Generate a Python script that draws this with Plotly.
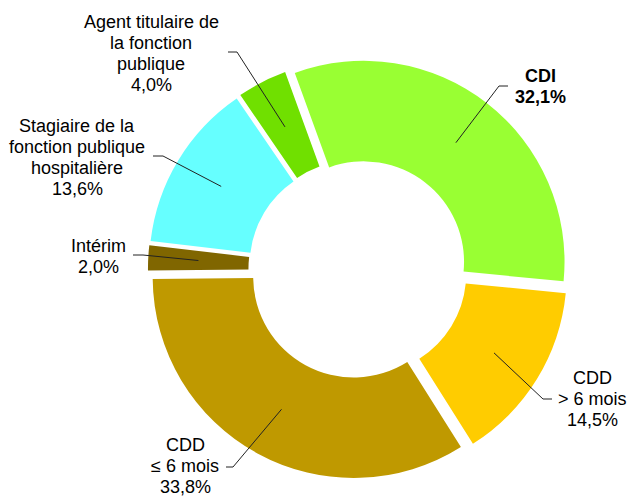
import math
import plotly.graph_objects as go

# ---- data ----
categories = ["CDI", "CDD > 6 mois", "CDD ≤ 6 mois", "Intérim",
              "Stagiaire de la fonction publique hospitalière",
              "Agent titulaire de la fonction publique"]
values = [32.1, 14.5, 33.8, 2.0, 13.6, 4.0]
label_lines = [
    ["CDI"],
    ["CDD", "> 6 mois"],
    ["CDD", "≤ 6 mois"],
    ["Intérim"],
    ["Stagiaire de la", "fonction publique", "hospitalière"],
    ["Agent titulaire de", "la fonction", "publique"],
]
colors = ["#99FF33", "#FFCC00", "#BF9900", "#806600", "#66FFFF", "#70E000"]

# ---- layout ----
W, H = 628, 497
CX, CY = 358, 269        # pie centre (px)
R_OUT = 201              # outer radius (px)
HOLE = 0.5
PULL = 0.045
ROT = -20
FONT = "Liberation Sans, Arial, sans-serif"
FS = 18
LS = 21                  # line spacing (px)

# label layout: (text centre x, first baseline y, elbow (x,y), end (x,y)) in px
label_layout = [
    (540, 82, (499, 86), (508, 86)),
    (592, 384, (543, 399), (552, 399)),
    (185, 451, (233, 467), (226, 467)),
    (98, 252, (143, 255), (133, 255)),
    (77, 132, (163, 156), (153, 156)),
    (151, 28, (237, 52), (228, 52)),
]
bold = [True, False, False, False, False, False]

def px(x):
    return x / W

def py(y):
    return 1 - y / H

half = R_OUT * (1 + PULL)
fig = go.Figure(go.Pie(
    labels=categories, values=values, sort=False, direction="clockwise",
    rotation=ROT, hole=HOLE, pull=[PULL] * len(values),
    marker=dict(colors=colors, line=dict(width=0)),
    textinfo="none", hoverinfo="label+percent",
    domain=dict(x=[px(CX - half), px(CX + half)], y=[py(CY + half), py(CY - half)]),
))

annotations = []
shapes = []
total = sum(values)
cum = 0.0
for i, v in enumerate(values):
    mid = math.radians(ROT + 360 * (cum + v / 2) / total)
    cum += v
    d = PULL * R_OUT
    rr = d + R_OUT * (1 + HOLE) / 2
    ax = CX + rr * math.sin(mid)
    ay = CY - rr * math.cos(mid)
    tx, ty, (ex, ey), (fx, fy) = label_layout[i]
    shapes.append(dict(
        type="path", xref="paper", yref="paper",
        path=f"M {px(ax)} {py(ay)} L {px(ex)} {py(ey)} L {px(fx)} {py(fy)}",
        line=dict(color="#222222", width=1),
    ))
    lines = list(label_lines[i]) + [f"{v:.1f}%".replace(".", ",")]
    for j, t in enumerate(lines):
        txt = f"<b>{t}</b>" if bold[i] else t
        annotations.append(dict(
            x=px(tx), y=py(ty + j * LS - 6), xref="paper", yref="paper",
            text=txt, showarrow=False, xanchor="center", yanchor="middle",
            font=dict(family=FONT, size=FS, color="#000000"),
        ))

fig.update_layout(
    width=W, height=H, margin=dict(l=0, r=0, t=0, b=0),
    paper_bgcolor="white", plot_bgcolor="white", showlegend=False,
    annotations=annotations, shapes=shapes,
)

fig.write_html("out.html", config={"displayModeBar": False},
               post_script="document.body.style.margin='0';document.body.style.overflow='hidden';")
